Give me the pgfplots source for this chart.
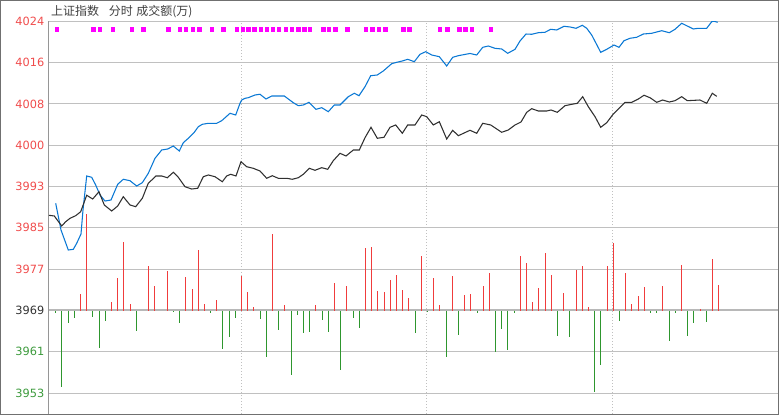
\documentclass[border=0pt]{standalone}
\usepackage{pgfplots}
\pgfplotsset{compat=1.18}
\usepackage{fontspec}
\setmainfont{DejaVu Sans}
\newfontfamily\cjk{Noto Sans CJK SC}
\definecolor{blueline}{RGB}{10,120,212}
\definecolor{blackline}{RGB}{48,48,48}
\definecolor{barred}{RGB}{240,60,60}
\definecolor{bargreen}{RGB}{46,150,46}
\definecolor{labred}{RGB}{240,76,76}
\definecolor{labgreen}{RGB}{60,154,60}
\definecolor{labdark}{RGB}{50,50,50}
\definecolor{gridgray}{RGB}{192,192,192}
\definecolor{basegray}{RGB}{184,184,184}
\definecolor{framegray}{RGB}{112,112,112}
\definecolor{axisgray}{RGB}{150,150,150}
\definecolor{titlegray}{RGB}{64,64,64}
\definecolor{sqmag}{RGB}{255,0,255}
\begin{document}
\begin{tikzpicture}
\begin{axis}[at={(0pt,0pt)}, anchor=south west, scale only axis,
  width=546.75pt, height=294.525pt,
  xmin=49, xmax=778, ymin=3949.31, ymax=4024,
  axis x line*=bottom, axis y line*=left,
  x axis line style={draw=none},
  y axis line style={draw=axisgray, line width=0.75pt},
  xtick={241.5,426.3,612.3}, xticklabels={},
  xmajorgrids, x grid style={gridgray, dash pattern=on 0.75pt off 1.5pt, line width=0.75pt},
  ytick={4024,4016.143,4008.286,4000.429,3992.571,3984.714,3976.857,3961.143,3953.286},
  yticklabels={\textcolor{labred}{\textnormal{4024}},\textcolor{labred}{\textnormal{4016}},\textcolor{labred}{\textnormal{4008}},\textcolor{labred}{\textnormal{4000}},\textcolor{labred}{\textnormal{3993}},\textcolor{labred}{\textnormal{3985}},\textcolor{labred}{\textnormal{3977}},\textcolor{labgreen}{\textnormal{3961}},\textcolor{labgreen}{\textnormal{3953}}},
  ymajorgrids, y grid style={gridgray, line width=0.75pt},
  extra y ticks={3969},
  extra y tick labels={\textcolor{labdark}{\textnormal{3969}}},
  extra y tick style={y grid style={basegray, line width=1.5pt, solid}},
  major tick length=0pt,
  tick label style={font=\fontsize{8.5pt}{10pt}\selectfont},
]
\addplot[blueline, line width=0.8pt] coordinates {
(55.7,3989.38)(61,3984.31)(68.3,3980.50)(73.3,3980.63)(76.7,3981.78)(81,3983.54)(83,3988.11)(86.7,3994.58)(91.7,3994.33)(95.7,3992.86)(100,3990.96)(105,3989.82)(111,3990.01)(117.7,3993.00)(123.3,3993.95)(130,3993.68)(136.7,3992.67)(142.3,3993.30)(148.3,3995.09)(155,3997.94)(161.7,3999.52)(167.7,3999.71)(173.3,4000.28)(179.3,3999.33)(183.3,4000.91)(189,4001.86)(194,4002.81)(198.3,4003.95)(202.3,4004.41)(208.3,4004.60)(216.7,4004.60)(221.7,4005.09)(230,4006.50)(235.7,4006.18)(240,4008.40)(241.7,4009.03)(245,4009.35)(248.3,4009.47)(255,4009.98)(260,4010.12)(266,4009.22)(271.7,4009.79)(284.3,4009.79)(293.3,4008.52)(298.3,4007.95)(303.3,4008.08)(309,4008.59)(316,4007.26)(321.7,4007.57)(328.3,4006.81)(334.3,4008.08)(340,4008.08)(348.3,4009.66)(354.3,4010.31)(359,4009.85)(365,4011.56)(370.7,4013.65)(377.3,4013.79)(383.3,4014.55)(391.7,4015.94)(396.7,4016.20)(402.3,4016.45)(407.7,4016.77)(414.3,4016.32)(420,4017.72)(425.7,4018.22)(431.7,4017.59)(439.3,4017.27)(446.7,4015.50)(452.7,4017.15)(458.3,4017.46)(470,4017.88)(476.7,4017.59)(482.7,4019.05)(488.3,4019.30)(495,4018.86)(501.7,4018.73)(507.7,4017.91)(515,4018.67)(520,4020.25)(526,4021.58)(531.7,4021.53)(538.3,4021.83)(545,4021.91)(550.7,4022.48)(556.7,4022.35)(564,4023.05)(570,4022.92)(576,4022.67)(582.3,4023.24)(586.7,4022.67)(591.7,4021.39)(596,4019.82)(600.7,4018.10)(606.7,4018.67)(614,4019.49)(619,4019.05)(624,4020.31)(630,4020.77)(636.7,4020.96)(643.3,4021.58)(651.7,4021.72)(661.7,4022.21)(669.3,4021.83)(675,4022.48)(681.7,4023.62)(686.7,4023.16)(693.3,4022.54)(698.3,4022.67)(706.7,4022.67)(711.7,4023.92)(714,4024.00)(717.7,4023.81)
};
\addplot[blackline, line width=0.8pt] coordinates {
(49,3987.10)(54.3,3986.97)(61.7,3985.07)(65.7,3985.88)(70,3986.53)(75.7,3987.03)(80.7,3987.79)(86.7,3990.91)(92.7,3990.20)(99,3991.59)(104.3,3989.06)(111.7,3987.92)(117.7,3988.87)(123.3,3990.64)(130,3989.06)(135.7,3988.74)(142.3,3990.33)(148.3,3993.19)(156,3994.58)(161.7,3994.58)(167.3,3994.25)(173.3,3995.28)(178.3,3994.33)(185,3992.54)(191.7,3992.10)(197.7,3992.24)(203.3,3994.44)(208.3,3994.77)(215,3994.44)(222.3,3993.49)(226.7,3994.58)(230.7,3994.90)(236,3994.58)(241,3997.30)(246.7,3996.34)(253.3,3996.04)(260,3995.53)(266.7,3994.14)(272.3,3994.63)(278.3,3994.14)(286.7,3994.14)(292.3,3993.95)(298.3,3994.25)(303.3,3994.90)(309.3,3996.04)(315,3995.66)(321.7,3996.16)(327.7,3995.85)(333.3,3997.49)(340,3998.89)(346,3998.38)(353.3,3999.52)(359.3,3999.52)(365,4001.86)(371,4003.84)(377.3,4001.75)(384,4001.94)(390,4003.84)(395.7,4004.28)(402.3,4002.70)(407.7,4004.28)(415,4004.28)(421.7,4006.18)(426.7,4005.86)(433.3,4004.28)(439.3,4004.90)(446.7,4001.61)(452.7,4003.27)(458.3,4002.24)(470,4003.27)(476.7,4002.70)(482.7,4004.60)(490.7,4004.28)(501.7,4002.89)(508.3,4003.33)(515,4004.28)(521,4004.85)(526.7,4006.69)(531.7,4007.38)(538.3,4006.94)(546.7,4006.94)(551,4007.13)(557.3,4006.69)(565,4007.95)(571.7,4008.21)(577.3,4008.40)(582.7,4009.66)(588.3,4007.76)(595,4005.86)(600.7,4003.84)(606.7,4004.71)(613.3,4006.37)(625,4008.59)(631.7,4008.59)(638.3,4009.22)(644,4009.93)(650,4009.47)(656.7,4008.59)(662.7,4009.03)(669.3,4008.65)(675,4008.90)(681.7,4009.66)(687.3,4008.90)(700,4009.03)(706.7,4008.40)(712.3,4010.31)(716.7,4009.73)
};
\addplot[only marks, mark=square*, mark size=1.3pt, sqmag, mark options={draw=none, fill=sqmag}] coordinates {
(56.7,4022.48)(93.3,4022.48)(100,4022.48)(112.7,4022.48)(131.7,4022.48)(143.3,4022.48)(168.3,4022.48)(180,4022.48)(186,4022.48)(192.7,4022.48)(199.3,4022.48)(211.7,4022.48)(223.3,4022.48)(236.7,4022.48)(242.7,4022.48)(248.3,4022.48)(254.3,4022.48)(260.7,4022.48)(266.7,4022.48)(272.7,4022.48)(279,4022.48)(285.7,4022.48)(292,4022.48)(298.3,4022.48)(304.3,4022.48)(310,4022.48)(323.3,4022.48)(329,4022.48)(335.3,4022.48)(347.3,4022.48)(366,4022.48)(372.3,4022.48)(378.7,4022.48)(385.3,4022.48)(403.3,4022.48)(409.3,4022.48)(440,4022.48)(447.3,4022.48)(459.3,4022.48)(465.3,4022.48)(471.7,4022.48)(490.7,4022.48)
};
\end{axis}
\begin{axis}[at={(0pt,0pt)}, anchor=south west, scale only axis,
  width=546.75pt, height=294.525pt,
  xmin=49, xmax=778, ymin=-103.3, ymax=289.4, hide axis]
\addplot[ycomb, barred, line width=0.9pt] coordinates {
(80.3,16.7)(86.7,96.7)(111.3,8.7)(117.3,33.0)(123.3,68.7)(130.3,7.0)(148.3,44.7)(154.3,25.0)(167.3,39.7)(185.3,34.0)(192.3,21.7)(198.3,60.7)(204.3,7.0)(216.7,10.7)(241.5,35.0)(247.3,18.7)(253.3,4.0)(272.3,76.7)(284.3,5.7)(315.3,5.7)(334.3,27.7)(346.3,24.7)(365.3,62.7)(371.3,63.7)(377.3,19.7)(384.3,18.7)(390.3,30.7)(396.3,36.0)(402.3,20.7)(408.3,12.7)(421.3,54.7)(433.3,32.7)(439.3,5.7)(452.3,35.0)(464.3,15.7)(470.3,16.7)(483.3,24.7)(489.3,38.0)(520.7,54.7)(526.7,47.7)(532.7,8.7)(538.7,22.7)(545.7,57.7)(551.7,35.7)(563.7,17.7)(576.7,40.7)(582.7,44.7)(588.7,3.7)(607.7,44.7)(613.7,67.4)(625.7,37.7)(631.7,6.7)(638.7,14.7)(644.7,23.7)(662.7,24.7)(681.7,45.7)(700.7,1.7)(712.7,51.7)(718.7,25.7)
};
\addplot[ycomb, bargreen, line width=0.9pt] coordinates {
(55.3,-2.6)(61.3,-76.6)(68.3,-12.6)(74.3,-7.0)(92.3,-6.0)(99.3,-37.0)(105.3,-10.0)(136.3,-20.0)(173.3,-1.6)(179.3,-12.6)(210.3,-2.6)(222.3,-38.6)(229.3,-26.0)(235.3,-7.6)(260.3,-8.0)(266.3,-46.0)(278.3,-19.3)(291.3,-64.0)(297.3,-4.0)(303.3,-22.0)(309.3,-21.3)(322.3,-9.3)(328.3,-21.3)(340.3,-59.3)(353.3,-7.0)(359.3,-17.0)(415.3,-22.0)(427.3,-1.0)(446.3,-46.0)(458.3,-24.0)(477.3,-2.0)(495.3,-41.0)(501.3,-18.0)(507.3,-39.3)(514.3,-2.0)(557.7,-25.0)(569.7,-26.0)(594.7,-81.6)(600.7,-54.0)(619.7,-10.0)(650.7,-2.0)(656.7,-2.0)(669.7,-30.0)(675.7,-2.0)(687.7,-25.0)(693.7,-12.0)(706.7,-11.0)
};
\end{axis}
\draw[framegray, line width=0.75pt] (-36pt,0pt) rectangle (546.75pt,309.75pt);
\node[anchor=west, inner sep=0pt, text=titlegray, font=\cjk\fontsize{9pt}{10pt}\selectfont] at (1.3pt,301.7pt) {上证指数\hspace{7.5pt}分时\hspace{2.5pt}成交额(万)};
\pgfresetboundingbox
\path (-36.75pt,-2.25pt) rectangle (548.25pt,310.5pt);
\end{tikzpicture}
\end{document}
